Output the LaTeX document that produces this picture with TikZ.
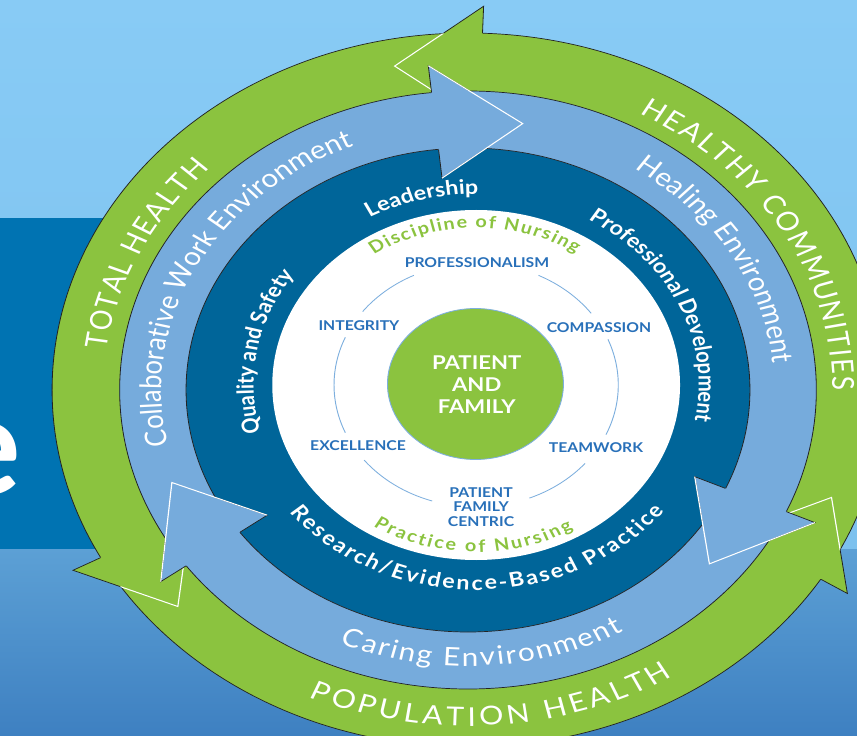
\documentclass[tikz,border=0pt]{standalone}
\usepackage{fontspec}
\setmainfont{Lato}
\usetikzlibrary{decorations.text}
\definecolor{skytop}{RGB}{136,203,245}
\definecolor{skybot}{RGB}{124,193,238}
\definecolor{rectblue}{RGB}{0,115,178}
\definecolor{lowtop}{RGB}{92,160,213}
\definecolor{lowbot}{RGB}{62,128,193}
\definecolor{rgreen}{RGB}{139,195,63}
\definecolor{rlb}{RGB}{118,171,220}
\definecolor{rdark}{RGB}{0,101,153}
\definecolor{valblue}{RGB}{40,112,185}
\definecolor{thinl}{RGB}{125,175,222}
\definecolor{edgec}{RGB}{35,35,35}
\newcommand\capfont{\color{white}\fontsize{26}{30}\selectfont}
\newcommand\envfont{\color{white}\fontsize{25.5}{29}\selectfont}
\newcommand\darkfont{\color{white}\fontsize{20}{24}\selectfont\bfseries}
\newcommand\nurfont{\color{rgreen}\fontsize{17}{20}\selectfont\bfseries}
\tikzset{
  valtext/.style={text=valblue, font=\fontsize{13.5}{14.5}\selectfont\bfseries, inner sep=1pt, align=center},
  bandline/.style={edgec, line width=0.7pt},
  thinarc/.style={thinl, line width=0.8pt},
}
\begin{document}
\begin{tikzpicture}[x=1pt,y=1pt]
\useasboundingbox (-468,-346) rectangle (389,390);
\clip (-468,-346) rectangle (389,390);
% background
\shade[top color=skytop, bottom color=skybot] (-468,-159) rectangle (389,390);
\fill[rectblue] (-468,-159) rectangle (0,172);
\shade[top color=lowtop, bottom color=lowbot] (-468,-346) rectangle (389,-159);
\node[anchor=base east, inner sep=0pt, text=white, font=\fontsize{138}{138}\selectfont\bfseries] (bige) at (-447,-104) {e};

\begin{scope}[transform canvas={xscale=1.165}]
  % dark ring base
  \fill[rdark] (0,0) circle (242pt);
  % green ring
  \fill[rgreen, even odd rule] (0,0) circle (357pt) (0,0) circle (299pt);
  \draw[bandline] (0,0) circle (357pt);
  \foreach \b in {88,208,328}{
    \pgfmathsetmacro{\tipang}{\b+13}
    \fill[rgreen] (\b:270pt) -- (\b:384pt) -- (\tipang:330pt) -- cycle;
    \begin{scope}[even odd rule]
      \clip (0,0) circle (1000pt) (0,0) circle (357.4pt) (0,0) circle (298.6pt);
      \draw[bandline] (\b:270pt) -- (\b:384pt) -- (\tipang:330pt) -- cycle;
    \end{scope}
    \begin{scope}
      \clip (0,0) circle (357pt);
      \draw[white, line width=1pt] (\b:384pt) -- (\tipang:330pt) -- (\b:270pt);
    \end{scope}
  }
  % light blue ring
  \fill[rlb, even odd rule] (0,0) circle (299pt) (0,0) circle (242pt);
  \draw[bandline] (0,0) circle (299pt) (0,0) circle (242pt);
  \foreach \b in {96,216,336}{
    \pgfmathsetmacro{\tipang}{\b-16}
    \fill[rlb] (\b:213pt) -- (\b:326pt) -- (\tipang:270.5pt) -- cycle;
    \begin{scope}[even odd rule]
      \clip (0,0) circle (1000pt) (0,0) circle (299.4pt) (0,0) circle (241.6pt);
      \draw[bandline] (\b:213pt) -- (\b:326pt) -- (\tipang:270.5pt) -- cycle;
    \end{scope}
    \draw[white, line width=1pt] (\b:326pt) -- (\tipang:270.5pt) -- (\b:213pt);
  }
  % white core
  \fill[white] (7,5) circle (175pt);
  \begin{scope}[shift={(7,5)}]
    \draw[thinarc] (116:122pt) arc[start angle=116, end angle=143, radius=122pt];
    \draw[thinarc] (36:122pt) arc[start angle=36, end angle=64, radius=122pt];
    \draw[thinarc] (157:122pt) arc[start angle=157, end angle=203, radius=122pt];
    \draw[thinarc] (-24:122pt) arc[start angle=-24, end angle=22, radius=122pt];
    \draw[thinarc] (218:122pt) arc[start angle=218, end angle=252, radius=122pt];
    \draw[thinarc] (292:122pt) arc[start angle=292, end angle=320, radius=122pt];
  \end{scope}
  \node[circle, fill=rgreen, draw=thinl, line width=0.8pt, minimum size=151pt, inner sep=0pt] (core) at (6.4,6) {};
  \node[text=white, font=\fontsize{19}{22}\selectfont\bfseries, align=center] (pf) at (7.5,5) {PATIENT\\AND\\FAMILY};
  % values
  \node[valtext] (vprof) at (7.7,127) {PROFESSIONALISM};
  \node[valtext] (vint) at (-93.6,64) {INTEGRITY};
  \node[valtext] (vcomp) at (112.4,62) {COMPASSION};
  \node[valtext] (vexc) at (-94.4,-56) {EXCELLENCE};
  \node[valtext] (vteam) at (109.9,-58) {TEAMWORK};
  \node[valtext] (vpfc) at (11.2,-117) {PATIENT\\FAMILY\\CENTRIC};
  % white disk curved texts
  \path[shift={(7,5)}, decorate, decoration={text along path, text align=fit to path, text={|\nurfont|Discipline of Nursing}}]
    (124:157pt) arc[start angle=124, end angle=57, radius=157pt];
  \path[shift={(7,5)}, decorate, decoration={text along path, text align=fit to path, text={|\nurfont|Practice of Nursing}}]
    (238:167pt) arc[start angle=238, end angle=300, radius=167pt];
  % dark ring texts
  \path[shift={(7,5)}, decorate, decoration={text along path, text align=center, text={|\darkfont|Leadership}}]
    (164:191pt) arc[start angle=164, end angle=44, radius=191pt];
  \path[shift={(7,5)}, decorate, decoration={text along path, text align=center, text={|\darkfont|Professional Development}}]
    (84.5:191pt) arc[start angle=84.5, end angle=-35.5, radius=191pt];
  \path[shift={(7,5)}, decorate, decoration={text along path, text align=center, text={|\darkfont|Quality and Safety}}]
    (229.5:191pt) arc[start angle=229.5, end angle=109.5, radius=191pt];
  \path[shift={(7,5)}, decorate, decoration={text along path, text align=fit to path, text={|\darkfont|Research/Evidence-Based Practice}}]
    (218.5:205pt) arc[start angle=218.5, end angle=322, radius=205pt];
  % light blue ring texts
  \path[decorate, decoration={text along path, text align=center, text={|\envfont|Collaborative Work Environment}}]
    (222:263pt) arc[start angle=222, end angle=82, radius=263pt];
  \path[decorate, decoration={text along path, text align=center, text={|\envfont|Healing Environment}}]
    (91.5:263pt) arc[start angle=91.5, end angle=-28.5, radius=263pt];
  \path[decorate, decoration={text along path, text align=fit to path, text={|\envfont|Caring Environment}}]
    (246.5:276pt) arc[start angle=246.5, end angle=299, radius=276pt];
  % green ring texts
  \path[decorate, decoration={text along path, text align=fit to path, text={|\capfont|TOTAL HEALTH}}]
    (172.5:313pt) arc[start angle=172.5, end angle=135, radius=313pt];
  \path[decorate, decoration={text along path, text align=fit to path, text={|\capfont|HEALTHY COMMUNITIES}}]
    (62:313pt) arc[start angle=62, end angle=0, radius=313pt];
  \path[decorate, decoration={text along path, text align=fit to path, text={|\capfont|POPULATION HEALTH}}]
    (246:336pt) arc[start angle=246, end angle=301.5, radius=336pt];
\end{scope}
\end{tikzpicture}
\end{document}
